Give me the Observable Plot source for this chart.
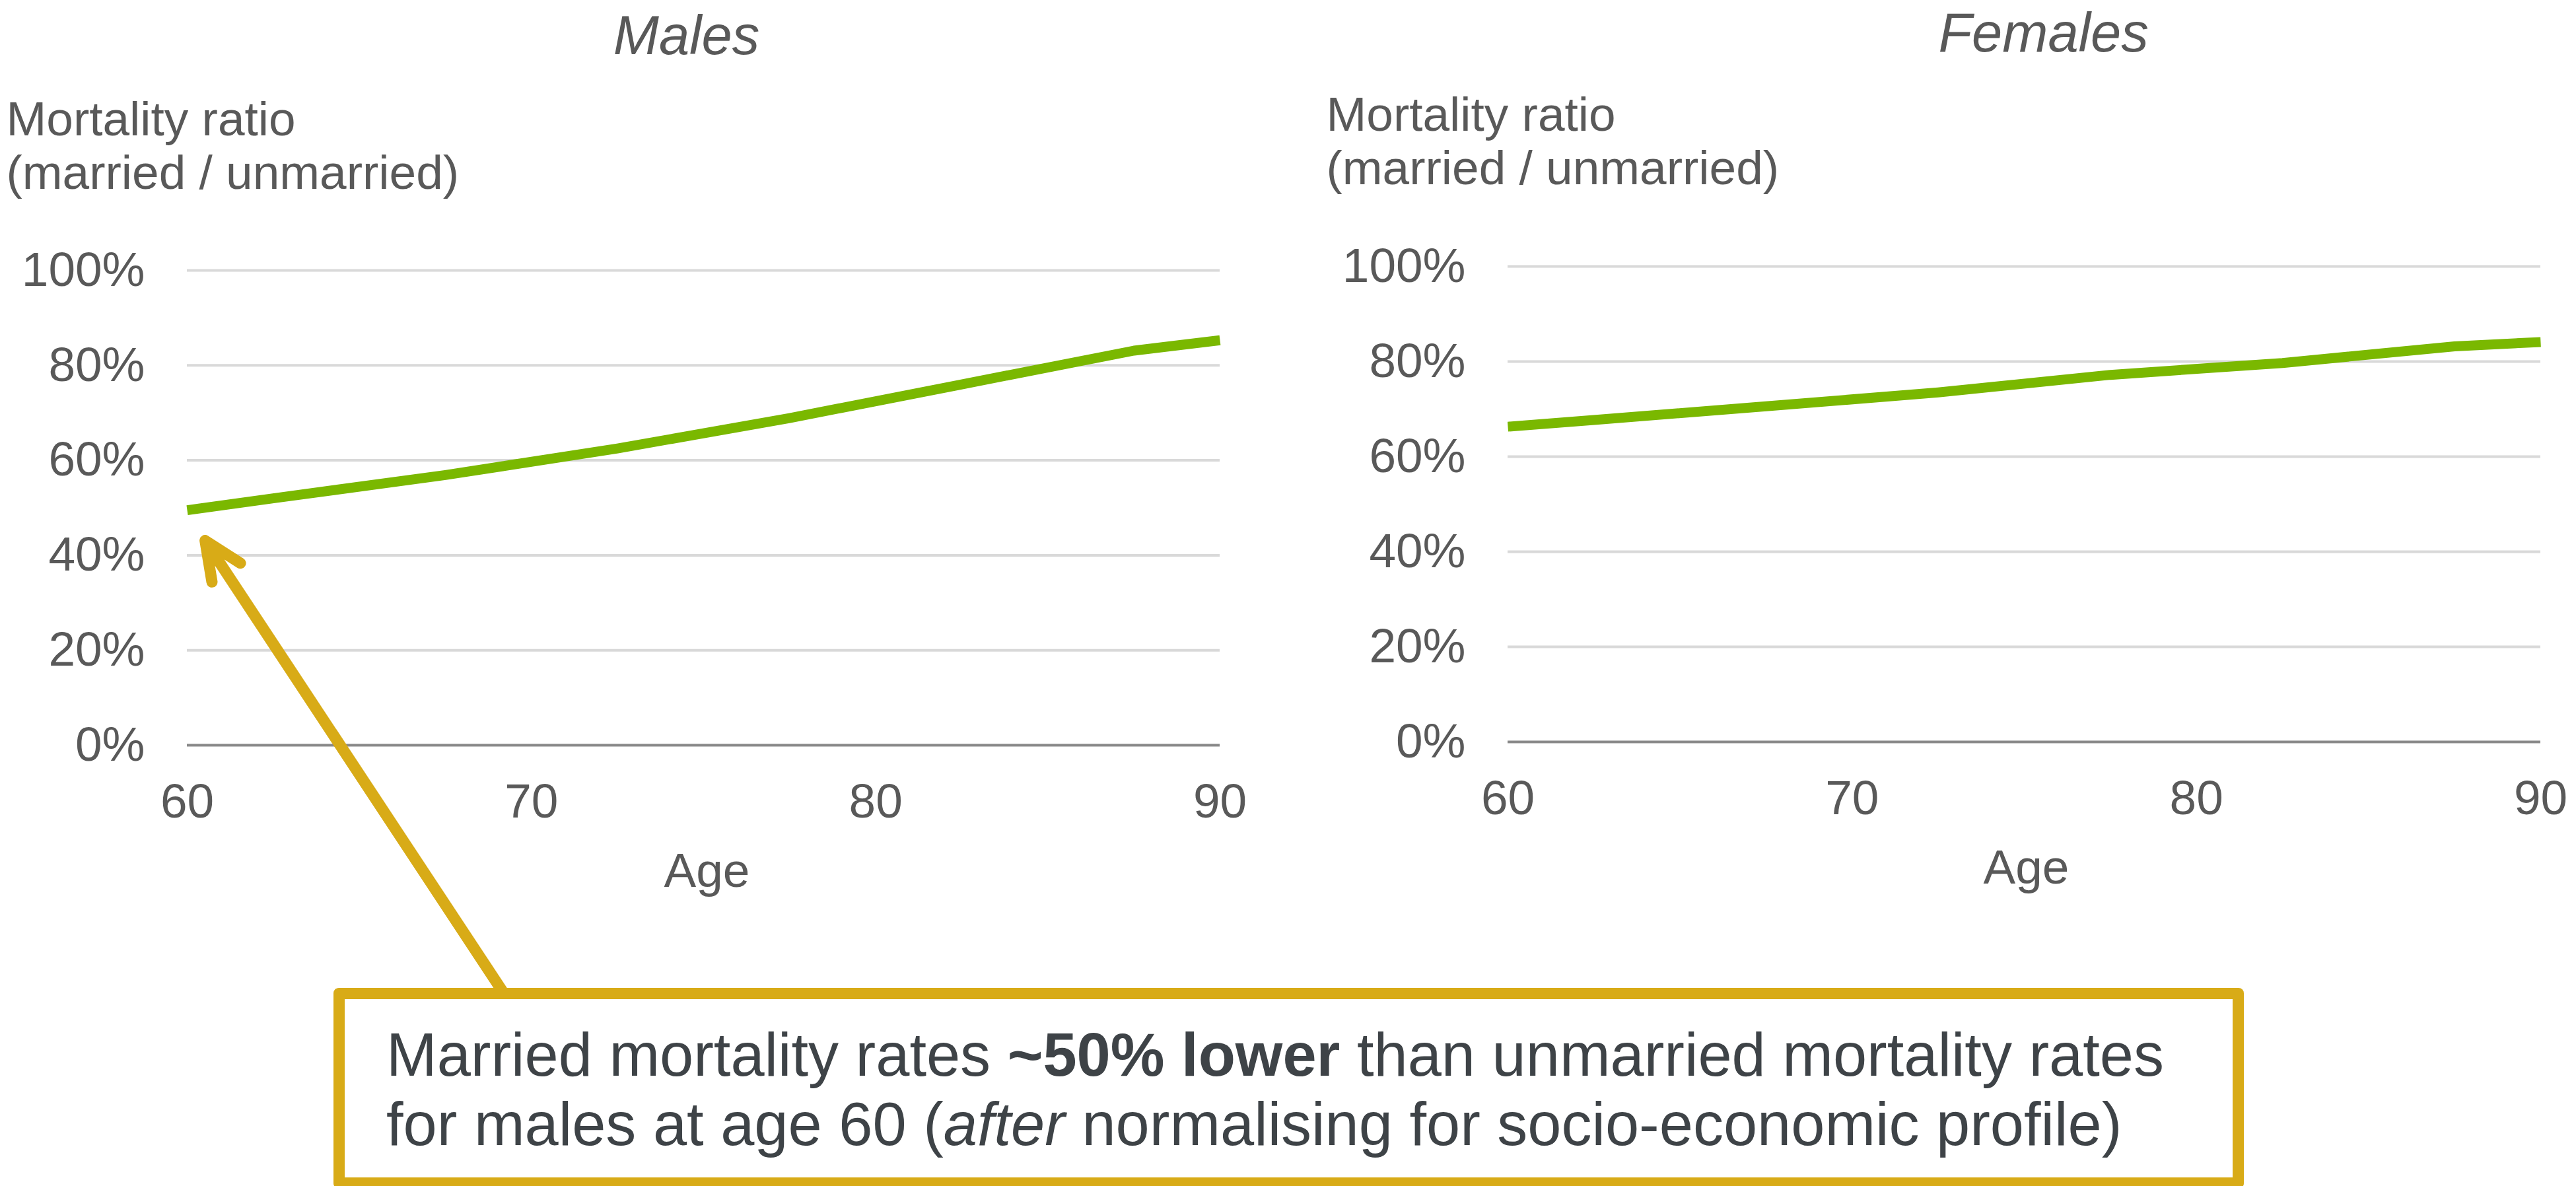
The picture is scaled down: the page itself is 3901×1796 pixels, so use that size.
<!DOCTYPE html>
<html>
<head>
<meta charset="utf-8">
<script src="https://cdn.jsdelivr.net/npm/d3@7"></script>
<script src="https://cdn.jsdelivr.net/npm/@observablehq/plot@0.6"></script>
<style>
html, body { margin: 0; padding: 0; background: #fff; }
#root { position: relative; width: 3901px; height: 1796px; overflow: hidden; font-family: "Liberation Sans", Arial, sans-serif; background: #fff; }
.panel { position: absolute; top: 0; }
.panel svg { max-width: none !important; }
#note { position: absolute; left: 505px; top: 1496px; width: 2893px; height: 304px; box-sizing: border-box; border: 17px solid #d8ab17; border-radius: 8px; background: #fff; }
#noteText { position: absolute; left: 585px; top: 1545px; font-size: 92px; line-height: 105px; color: #3e4347; white-space: nowrap; }
</style>
</head>
<body>
<div id="root">
  <div id="males" class="panel" style="left:0px"></div>
  <div id="females" class="panel" style="left:1950px"></div>
  <div id="note"></div>
  <div id="noteText">Married mortality rates <b>~50% lower</b> than unmarried mortality rates<br>for males at age 60 (<i>after</i> normalising for socio-economic profile)</div>
</div>
<script>
// ---- data ----
const ages = [60, 62.5, 67.5, 72.5, 77.5, 82.5, 87.5, 90];
const maleRatio = [0.495, 0.52, 0.569, 0.625, 0.689, 0.76, 0.831, 0.853];
const femaleRatio = [0.663, 0.677, 0.706, 0.735, 0.772, 0.797, 0.832, 0.841];
const xTicks = [60, 70, 80, 90];
const yTicks = [0, 0.2, 0.4, 0.6, 0.8, 1];
const panelTitles = ["Males", "Females"];
const yLabel = "Mortality ratio\n(married / unmarried)";
const xLabel = "Age";
// annotation arrow (data coordinates of the males panel)
const arrowTail = [69.21, -0.524];
const arrowTip = [60.52, 0.431];

const FONT = "'Liberation Sans', Arial, sans-serif";
const TEXT = "#595959";
const GREEN = "#7ab800";
const GOLD = "#d8ab17";
const FS = 73;

function panel(cfg) {
  const rows = ages.map((a, i) => ({age: a, ratio: cfg.values[i]}));
  const marks = [
    Plot.gridY(yTicks.filter(t => t > 0), {stroke: "#d9d9d9", strokeOpacity: 1, strokeWidth: 4}),
    Plot.ruleY([0], {stroke: "#898989", strokeWidth: 4}),
    Plot.axisY(yTicks, {tickSize: 0, tickPadding: 64, tickFormat: d3.format(".0%"), label: null}),
    Plot.axisX(xTicks, {tickSize: 0, tickPadding: 58, tickFormat: d => String(d), label: null}),
    Plot.line(rows, {x: "age", y: "ratio", stroke: GREEN, strokeWidth: 15, strokeLinecap: "butt", strokeLinejoin: "round"}),
    Plot.text([cfg.title], {frameAnchor: "top", dx: cfg.titleDx, dy: cfg.titleDy, lineAnchor: "bottom", fontSize: 83, fontStyle: "italic", fill: TEXT}),
    Plot.text([yLabel], {frameAnchor: "top-left", textAnchor: "start", lineAnchor: "bottom", lineHeight: 81 / FS, dx: cfg.labelDx, dy: cfg.labelDy, fill: TEXT}),
    Plot.text([xLabel], {frameAnchor: "bottom", lineAnchor: "bottom", dx: cfg.ageDx, dy: 214, fill: TEXT})
  ];
  if (cfg.arrow) {
    marks.push(Plot.arrow([{x1: arrowTail[0], y1: arrowTail[1], x2: arrowTip[0], y2: arrowTip[1]}], {
      x1: "x1", y1: "y1", x2: "x2", y2: "y2",
      stroke: GOLD, strokeWidth: 17, headLength: 5.6, headAngle: 48,
      strokeLinecap: "round", strokeLinejoin: "round"
    }));
  }
  return Plot.plot({
    width: cfg.width,
    height: 1796,
    marginLeft: cfg.marginLeft,
    marginRight: cfg.marginRight,
    marginTop: cfg.marginTop,
    marginBottom: cfg.marginBottom,
    style: {fontFamily: FONT, fontSize: FS + "px", color: TEXT, background: "transparent", overflow: "visible"},
    x: {domain: [60, 90]},
    y: {domain: [0, 1]},
    marks
  });
}

document.getElementById("males").appendChild(panel({
  title: panelTitles[0], values: maleRatio, width: 1950,
  marginLeft: 283, marginRight: 103, marginTop: 409, marginBottom: 668,
  titleDx: -26, titleDy: -328, labelDx: -274, labelDy: -124, ageDx: 5, arrow: true
}));
document.getElementById("females").appendChild(panel({
  title: panelTitles[1], values: femaleRatio, width: 1951,
  marginLeft: 333, marginRight: 54, marginTop: 403, marginBottom: 673,
  titleDx: 29, titleDy: -326, labelDx: -275, labelDy: -125, ageDx: 3, arrow: false
}));
</script>
</body>
</html>
